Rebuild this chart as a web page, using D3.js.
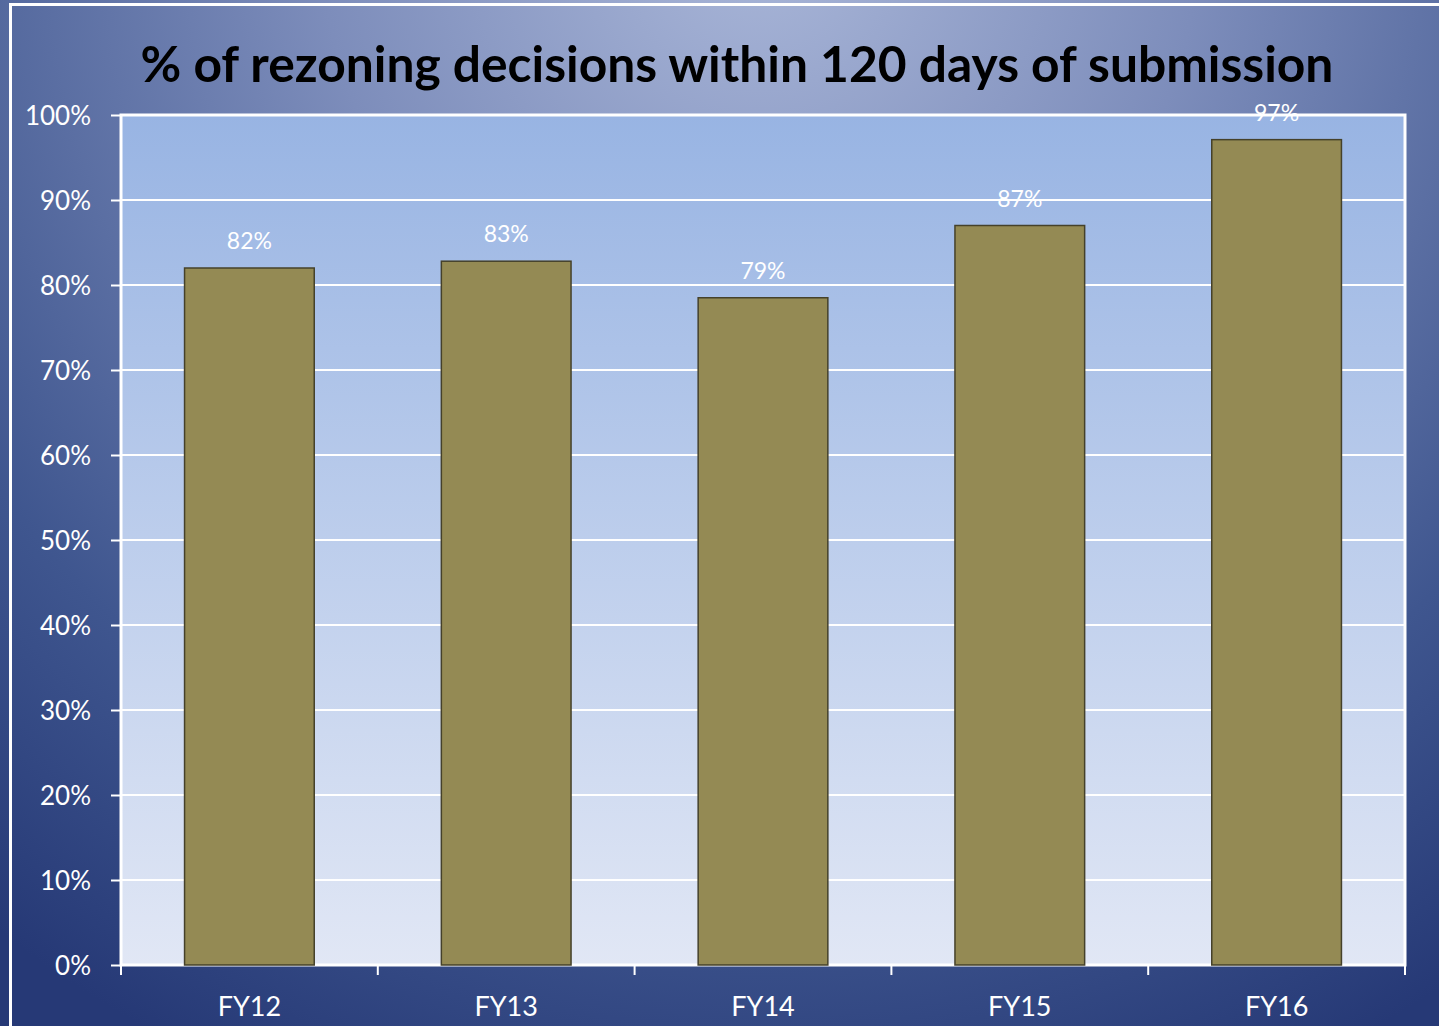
<html lang="en">
<head>
<meta charset="utf-8">
<title>Rezoning decisions</title>
<script src="https://d3js.org/d3.v7.min.js"></script>
<style>
  body { margin: 0; background: #2a3c78; overflow: hidden; }
  text { font-family: Lato, "Open Sans", sans-serif; }
</style>
</head>
<body>
<script>
// data
var years = ["FY12", "FY13", "FY14", "FY15", "FY16"];
var pct = [82, 82.8, 78.5, 87, 97.1];
var pctLabels = ["82%", "83%", "79%", "87%", "97%"];
var yTicks = [0, 10, 20, 30, 40, 50, 60, 70, 80, 90, 100];
var title = "% of rezoning decisions within 120 days of submission";

var W = 1439, H = 1026;
var plot = {left: 121, top: 115, right: 1405, bottom: 965};

var svg = d3.select("body").append("svg")
  .attr("width", W).attr("height", H);

var defs = svg.append("defs");

// outer background: light at top middle, navy toward the bottom corners
var bg = defs.append("radialGradient").attr("id", "bg")
  .attr("gradientUnits", "userSpaceOnUse")
  .attr("cx", 760).attr("cy", -60).attr("r", 1250);
bg.append("stop").attr("offset", "0%").attr("stop-color", "#a9b6d8");
bg.append("stop").attr("offset", "35%").attr("stop-color", "#7d8dbb");
bg.append("stop").attr("offset", "75%").attr("stop-color", "#3f568f");
bg.append("stop").attr("offset", "100%").attr("stop-color", "#263976");

var pg = defs.append("linearGradient").attr("id", "plotbg")
  .attr("x1", 0).attr("y1", 0).attr("x2", 0).attr("y2", 1);
pg.append("stop").attr("offset", "0%").attr("stop-color", "#98b4e3");
pg.append("stop").attr("offset", "100%").attr("stop-color", "#e1e7f5");

svg.append("rect").attr("width", W).attr("height", H).attr("fill", "url(#bg)");

// white frame round the slide area
svg.append("rect")
  .attr("x", 10.5).attr("y", 4.5).attr("width", 1600).attr("height", 1200)
  .attr("fill", "none").attr("stroke", "#ffffff").attr("stroke-width", 3);

var x = d3.scaleBand()
  .domain(years)
  .range([plot.left, plot.right])
  .paddingInner(0.495)
  .paddingOuter(0.2475);

var y = d3.scaleLinear()
  .domain([0, 100])
  .range([plot.bottom, plot.top]);

svg.append("rect")
  .attr("x", plot.left).attr("y", plot.top)
  .attr("width", plot.right - plot.left).attr("height", plot.bottom - plot.top)
  .attr("fill", "url(#plotbg)");

// gridlines
svg.append("g")
  .selectAll("line")
  .data(yTicks.filter(function(d) { return d > 0; }))
  .enter().append("line")
  .attr("x1", plot.left).attr("x2", plot.right)
  .attr("y1", function(d) { return y(d); })
  .attr("y2", function(d) { return y(d); })
  .attr("stroke", "#ffffff").attr("stroke-width", 2);

// plot border
svg.append("rect")
  .attr("x", plot.left).attr("y", plot.top)
  .attr("width", plot.right - plot.left).attr("height", plot.bottom - plot.top)
  .attr("fill", "none").attr("stroke", "#ffffff").attr("stroke-width", 3);

// bars
svg.append("g")
  .selectAll("rect")
  .data(pct)
  .enter().append("rect")
  .attr("x", function(d, i) { return x(years[i]); })
  .attr("y", function(d) { return y(d); })
  .attr("width", x.bandwidth())
  .attr("height", function(d) { return plot.bottom - y(d); })
  .attr("fill", "#948a54")
  .attr("stroke", "#45412a")
  .attr("stroke-width", 1.5);

// value labels
svg.append("g")
  .selectAll("text")
  .data(pct)
  .enter().append("text")
  .attr("x", function(d, i) { return x(years[i]) + x.bandwidth() / 2; })
  .attr("y", function(d) { return y(d) - 19; })
  .attr("text-anchor", "middle")
  .attr("font-size", "23px")
  .attr("fill", "#ffffff")
  .text(function(d, i) { return pctLabels[i]; });

// y axis
var yAxis = svg.append("g")
  .attr("transform", "translate(" + plot.left + ",0)")
  .call(d3.axisLeft(y).tickValues(yTicks).tickSize(10).tickPadding(20)
    .tickFormat(function(d) { return d + "%"; }));
yAxis.select(".domain").remove();
yAxis.selectAll("line").attr("stroke", "#ffffff").attr("stroke-width", 2);
yAxis.selectAll("text")
  .attr("fill", "#ffffff")
  .attr("font-size", "26px")
  .attr("font-family", "Lato, sans-serif")
  .attr("dy", "0.36em");

// x axis with ticks on band boundaries
var bounds = years.map(function(d) { return x(d) - x.step() * x.paddingInner() / 2; });
bounds.push(plot.right);
svg.append("g")
  .selectAll("line")
  .data(bounds)
  .enter().append("line")
  .attr("x1", function(d) { return d; }).attr("x2", function(d) { return d; })
  .attr("y1", plot.bottom).attr("y2", plot.bottom + 10)
  .attr("stroke", "#ffffff").attr("stroke-width", 2);

svg.append("g")
  .selectAll("text")
  .data(years)
  .enter().append("text")
  .attr("x", function(d) { return x(d) + x.bandwidth() / 2; })
  .attr("y", 1016)
  .attr("text-anchor", "middle")
  .attr("font-size", "27px")
  .attr("fill", "#ffffff")
  .text(function(d) { return d; });

// title, fitted to the width it takes in the original
var t = svg.append("text")
  .attr("x", 737).attr("y", 82)
  .attr("text-anchor", "middle")
  .attr("font-weight", "bold")
  .attr("font-size", "50px")
  .attr("fill", "#000000")
  .text(title);
var len = t.node().getComputedTextLength();
t.attr("font-size", (50 * 1193 / len) + "px");
</script>
</body>
</html>
